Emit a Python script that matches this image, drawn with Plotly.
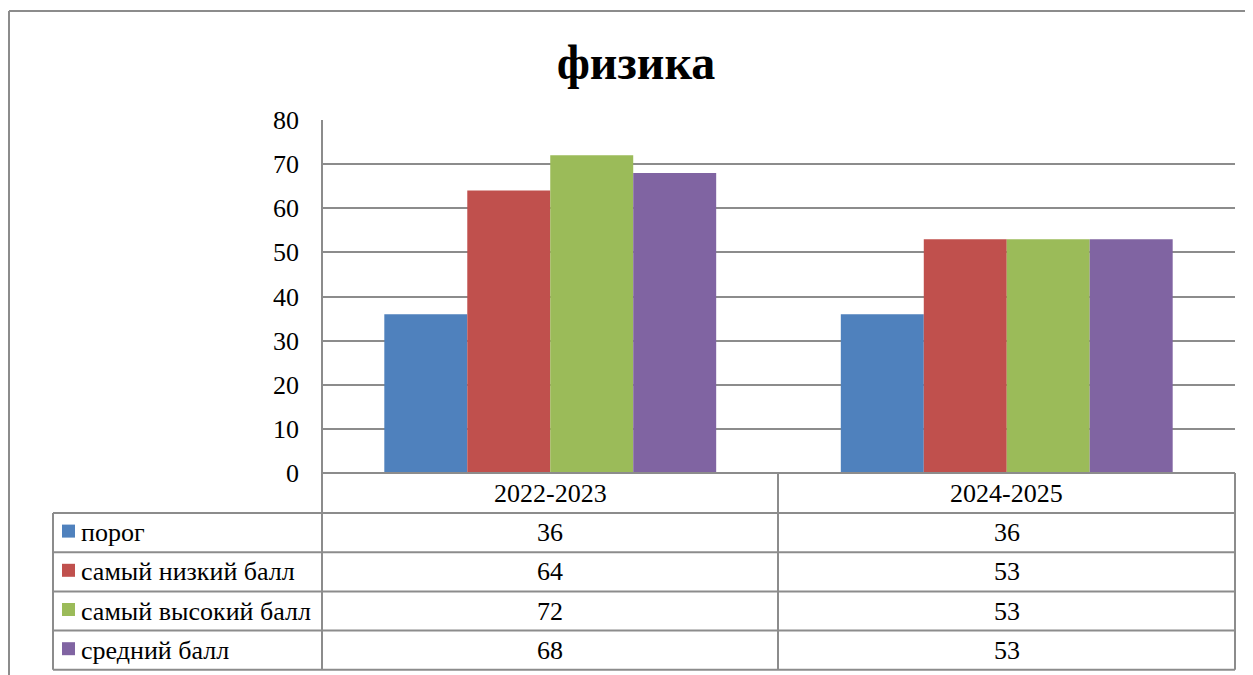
import plotly.graph_objects as go

W, H = 1253, 675

categories = ['2022-2023', '2024-2025']
series_names = ['порог', 'самый низкий балл', 'самый высокий балл', 'средний балл']
porog = [36, 36]
lowest = [64, 53]
highest = [72, 53]
average = [68, 53]
colors = ['#4F81BD', '#C0504D', '#9BBB59', '#8064A2']
title_text = 'физика'

series = [porog, lowest, highest, average]

# page body adds 8px, so shift the layout back by that
OFF = 8

def px(x):
    return (x - OFF) / W

def py(y):
    return 1 - (y - OFF) / H

FONT = 'Liberation Serif'
LINE = '#8c8c8c'
FS = 26

# plot area / table geometry in screen pixels
left, right = 322, 1235
top, bottom = 120, 473
tab_left = 53
col_div = 778
row_h = 39.2
hdr_bottom = 513

fig = go.Figure()
for name, vals, col in zip(series_names, series, colors):
    fig.add_bar(x=categories, y=vals, name=name, marker_color=col,
                marker_line_width=0, showlegend=False)

fig.update_layout(
    template='none',
    width=W, height=H, autosize=False,
    margin=dict(l=0, r=0, t=0, b=0, pad=0),
    paper_bgcolor='white', plot_bgcolor='white',
    barmode='group', bargap=0.273, bargroupgap=0,
    font=dict(family=FONT, size=FS, color='black'),
    title=dict(text='<b>' + title_text + '</b>', x=px(636), xanchor='center',
               xref='paper', yref='paper',
               y=py(62), yanchor='middle',
               font=dict(family=FONT, size=48, color='black')),
    xaxis=dict(domain=[px(left), px(right)], showticklabels=False,
               showgrid=False, zeroline=False, showline=False, automargin=False),
    yaxis=dict(domain=[py(bottom), py(top)], range=[0, 80], dtick=10,
               showgrid=True, gridcolor=LINE, gridwidth=1.5,
               zeroline=False, showline=False, ticks='', automargin=False,
               ticklabelstandoff=22,
               tickfont=dict(family=FONT, size=FS, color='black')),
)

shapes = []

def hline(y, x0, x1):
    shapes.append(dict(type='line', xref='paper', yref='paper',
                       x0=px(x0), x1=px(x1), y0=py(y), y1=py(y),
                       line=dict(color=LINE, width=2)))

def vline(x, y0, y1):
    shapes.append(dict(type='line', xref='paper', yref='paper',
                       x0=px(x), x1=px(x), y0=py(y0), y1=py(y1),
                       line=dict(color=LINE, width=2)))

# outer chart frame
hline(11, 9, W + OFF)
vline(9, 11, H + OFF)

# axis line through table
vline(left, top, hdr_bottom + 4 * row_h)
# table lines
hline(bottom, left, right)
hline(hdr_bottom, tab_left, right)
for i in range(1, 5):
    hline(hdr_bottom + i * row_h, tab_left, right)
vline(tab_left, hdr_bottom, hdr_bottom + 4 * row_h)
vline(col_div, bottom, hdr_bottom + 4 * row_h)
vline(right, bottom, hdr_bottom + 4 * row_h)

annotations = []
# header labels
for c in categories:
    annotations.append(dict(x=c, xref='x', y=py((bottom + hdr_bottom) / 2), yref='paper',
                            text=c, showarrow=False, xanchor='center', yanchor='middle',
                            font=dict(family=FONT, size=FS, color='black')))

for i, (name, vals, col) in enumerate(zip(series_names, series, colors)):
    yc = hdr_bottom + (i + 0.5) * row_h
    shapes.append(dict(type='rect', xref='paper', yref='paper',
                       x0=px(62), x1=px(75), y0=py(yc + 5), y1=py(yc - 8),
                       fillcolor=col, line=dict(width=0)))
    annotations.append(dict(x=px(79), xref='paper', y=py(yc), yref='paper',
                            text=name, showarrow=False, xanchor='left', yanchor='middle',
                            font=dict(family=FONT, size=FS, color='black')))
    for c, v in zip(categories, vals):
        annotations.append(dict(x=c, xref='x', y=py(yc), yref='paper',
                                text=str(v), showarrow=False, xanchor='center',
                                yanchor='middle',
                                font=dict(family=FONT, size=FS, color='black')))

fig.update_layout(shapes=shapes, annotations=annotations)

fig.write_html('out.html')
